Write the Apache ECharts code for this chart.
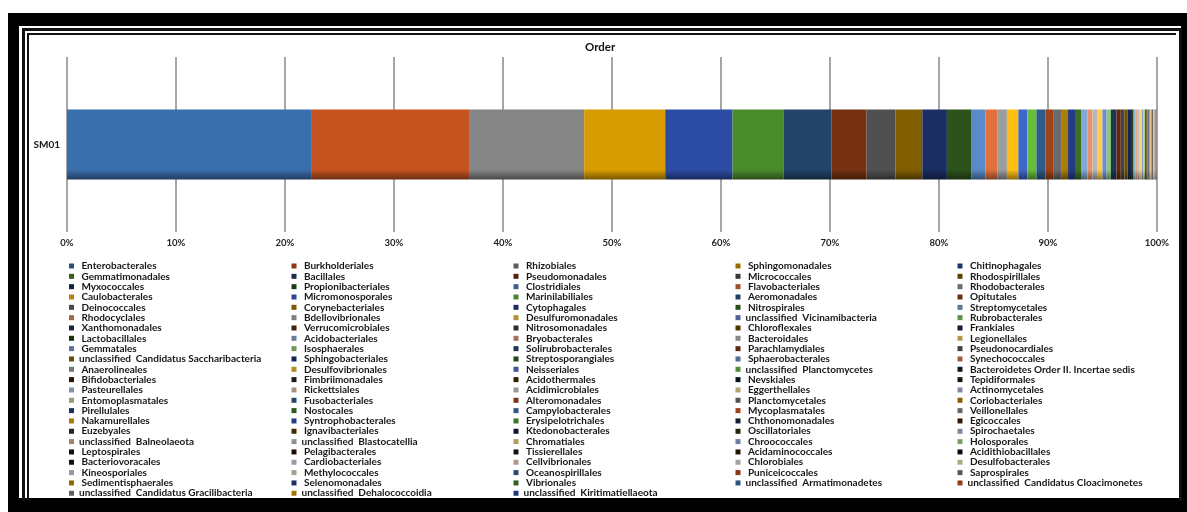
<!DOCTYPE html>
<html>
<head>
<meta charset="utf-8">
<title>Order</title>
<script src="https://cdn.jsdelivr.net/npm/echarts@6/dist/echarts.min.js"></script>
<style>
  html, body { margin: 0; padding: 0; background: #fff; }
  #wrap { position: relative; width: 1187px; height: 512px; overflow: hidden; }
  .band  { position: absolute; left: 8px; top: 13px; width: 1179px; height: 499px; background: #000; }
  .paper { position: absolute; left: 19px; top: 26px; width: 1162px; height: 472px; background: #fff; }
  .rule1 { position: absolute; left: 22px; top: 28px; width: 1154px; height: 470px; border: 3px solid #111; border-bottom: none; }
  .rule2 { position: absolute; left: 27px; top: 33px; width: 1147px; height: 465px; border-left: 2px solid #111; border-top: 2px solid #111; }
  #chart { position: absolute; left: 0; top: 0; width: 1187px; height: 512px; }
</style>
</head>
<body>
<div id="wrap">
  <div class="band"></div>
  <div class="paper"></div>
  <div class="rule1"></div>
  <div class="rule2"></div>
  <div id="chart"></div>
</div>
<script>
// Sample
const categories = ['SM01'];

// Orders, in series / legend order (legend reads row by row, five per row)
const orders = [
  'Enterobacterales', 'Burkholderiales', 'Rhizobiales', 'Sphingomonadales', 'Chitinophagales',
  'Gemmatimonadales', 'Bacillales', 'Pseudomonadales', 'Micrococcales', 'Rhodospirillales',
  'Myxococcales', 'Propionibacteriales', 'Clostridiales', 'Flavobacteriales', 'Rhodobacterales',
  'Caulobacterales', 'Micromonosporales', 'Marinilabiliales', 'Aeromonadales', 'Opitutales',
  'Deinococcales', 'Corynebacteriales', 'Cytophagales', 'Nitrospirales', 'Streptomycetales',
  'Rhodocyclales', 'Bdellovibrionales', 'Desulfuromonadales', 'unclassified  Vicinamibacteria', 'Rubrobacterales',
  'Xanthomonadales', 'Verrucomicrobiales', 'Nitrosomonadales', 'Chloroflexales', 'Frankiales',
  'Lactobacillales', 'Acidobacteriales', 'Bryobacterales', 'Bacteroidales', 'Legionellales',
  'Gemmatales', 'Isosphaerales', 'Solirubrobacterales', 'Parachlamydiales', 'Pseudonocardiales',
  'unclassified  Candidatus Saccharibacteria', 'Sphingobacteriales', 'Streptosporangiales', 'Sphaerobacterales', 'Synechococcales',
  'Anaerolineales', 'Desulfovibrionales', 'Neisseriales', 'unclassified  Planctomycetes', 'Bacteroidetes Order II. Incertae sedis',
  'Bifidobacteriales', 'Fimbriimonadales', 'Acidothermales', 'Nevskiales', 'Tepidiformales',
  'Pasteurellales', 'Rickettsiales', 'Acidimicrobiales', 'Eggerthellales', 'Actinomycetales',
  'Entomoplasmatales', 'Fusobacteriales', 'Alteromonadales', 'Planctomycetales', 'Coriobacteriales',
  'Pirellulales', 'Nostocales', 'Campylobacterales', 'Mycoplasmatales', 'Veillonellales',
  'Nakamurellales', 'Syntrophobacterales', 'Erysipelotrichales', 'Chthonomonadales', 'Egicoccales',
  'Euzebyales', 'Ignavibacteriales', 'Ktedonobacterales', 'Oscillatoriales', 'Spirochaetales',
  'unclassified  Balneolaeota', 'unclassified  Blastocatellia', 'Chromatiales', 'Chroococcales', 'Holosporales',
  'Leptospirales', 'Pelagibacterales', 'Tissierellales', 'Acidaminococcales', 'Acidithiobacillales',
  'Bacteriovoracales', 'Cardiobacteriales', 'Cellvibrionales', 'Chlorobiales', 'Desulfobacterales',
  'Kineosporiales', 'Methylococcales', 'Oceanospirillales', 'Puniceicoccales', 'Saprospirales',
  'Sedimentisphaerales', 'Selenomonadales', 'Vibrionales', 'unclassified  Armatimonadetes', 'unclassified  Candidatus Cloacimonetes',
  'unclassified  Candidatus Gracilibacteria', 'unclassified  Dehalococcoidia', 'unclassified  Kiritimatiellaeota'
];

// Relative abundance (%) of each order in SM01
const abundance = [
  22.48, 14.43, 10.57, 7.44, 6.18,
  4.67, 4.43, 3.21, 2.63, 2.48,
  2.26, 2.27, 1.26, 1.13, 0.85,
  1.05, 0.83, 0.83, 0.83, 0.76,
  0.67, 0.64, 0.64, 0.55, 0.59,
  0.46, 0.42, 0.50, 0.39, 0.37,
  0.52, 0.40, 0.33, 0.30, 0.31,
  0.24, 0.20, 0.19, 0.18, 0.17,
  0.16, 0.15, 0.090, 0.075, 0.065,
  0.060, 0.055, 0.050, 0.046, 0.042,
  0.040, 0.037, 0.034, 0.031, 0.026,
  0.025, 0.024, 0.022, 0.021, 0.020,
  0.019, 0.018, 0.017, 0.016, 0.015,
  0.014, 0.013, 0.012, 0.012, 0.011,
  0.011, 0.010, 0.010, 0.009, 0.009,
  0.008, 0.008, 0.008, 0.007, 0.007,
  0.007, 0.006, 0.006, 0.006, 0.005,
  0.005, 0.005, 0.005, 0.004, 0.004,
  0.004, 0.004, 0.003, 0.003, 0.003,
  0.003, 0.003, 0.002, 0.002, 0.002,
  0.002, 0.002, 0.002, 0.002, 0.001,
  0.001, 0.001, 0.001, 0.001, 0.001,
  0.001, 0.001, 0.001
];

// Percent axis ticks
const tickValues = [0, 10, 20, 30, 40, 50, 60, 70, 80, 90, 100];

// ---- colours: six accents, cycled through luminance variants ----
const accents = ['#3a6fae', '#c5531f', '#858585', '#d79c00', '#2c4ca3', '#4a8c2c'];
const variants = [[1, 0], [0.6, 0], [0.8, 0.2], [0.8, 0], [0.6, 0.4], [0.5, 0], [0.5, 0.5],
  [0.7, 0], [0.7, 0.3], [0.3, 0], [0.3, 0.7], [0.9, 0], [0.9, 0.1], [0.4, 0], [0.4, 0.6],
  [0.2, 0], [0.2, 0.8], [0.95, 0], [0.95, 0.05]];

function hexToRgb(h) {
  const n = parseInt(h.slice(1), 16);
  return [(n >> 16) & 255, (n >> 8) & 255, n & 255];
}
function rgbToHsl(r, g, b) {
  r /= 255; g /= 255; b /= 255;
  const mx = Math.max(r, g, b), mn = Math.min(r, g, b);
  let h = 0, s = 0; const l = (mx + mn) / 2;
  if (mx !== mn) {
    const d = mx - mn;
    s = l > 0.5 ? d / (2 - mx - mn) : d / (mx + mn);
    if (mx === r) h = (g - b) / d + (g < b ? 6 : 0);
    else if (mx === g) h = (b - r) / d + 2;
    else h = (r - g) / d + 4;
    h /= 6;
  }
  return [h, s, l];
}
function hslToRgb(h, s, l) {
  if (s === 0) return [l * 255, l * 255, l * 255];
  const q = l < 0.5 ? l * (1 + s) : l + s - l * s, p = 2 * l - q;
  const f = t => {
    if (t < 0) t += 1; if (t > 1) t -= 1;
    if (t < 1 / 6) return p + (q - p) * 6 * t;
    if (t < 1 / 2) return q;
    if (t < 2 / 3) return p + (q - p) * (2 / 3 - t) * 6;
    return p;
  };
  return [f(h + 1 / 3) * 255, f(h) * 255, f(h - 1 / 3) * 255];
}
function lum(hex, mod, off) {
  const [h, s, l] = rgbToHsl(...hexToRgb(hex));
  const rgb = hslToRgb(h, s, Math.min(1, l * mod + off));
  return 'rgb(' + rgb.map(v => Math.round(v)).join(',') + ')';
}
function shade(rgbStr, k) {
  const v = rgbStr.match(/\d+/g).map(Number);
  return 'rgb(' + v.map(x => Math.round(x * k)).join(',') + ')';
}
const colorOf = i => {
  const [m, o] = variants[Math.floor(i / 6) % variants.length];
  return lum(accents[i % 6], m, o);
};

// ---- series: one stacked bar segment per order, scaled to 100 % ----
const total = abundance.reduce((a, b) => a + b, 0);
const series = orders.map((name, i) => {
  const c = colorOf(i);
  return {
    name,
    type: 'bar',
    stack: 'all',
    barWidth: 70,
    data: [abundance[i] / total * 100],
    itemStyle: {
      color: new echarts.graphic.LinearGradient(0, 0, 0, 1, [
        { offset: 0, color: c },
        { offset: 0.86, color: c },
        { offset: 1, color: shade(c, 0.55) }
      ])
    },
    emphasis: { disabled: true }
  };
});

// ---- legend: five columns, each listing every fifth order ----
const legendFont = { fontFamily: 'Lato', fontWeight: 'bold', fontSize: 10, lineHeight: 10, color: '#161616' };
const colLeft = [69, 291.5, 513.5, 735.5, 957.5];
const legends = colLeft.map((left, col) => ({
  orient: 'vertical',
  left,
  top: 261,
  padding: 0,
  itemGap: 0.33,
  itemWidth: 5,
  itemHeight: 5,
  icon: 'rect',
  selectedMode: false,
  textStyle: legendFont,
  formatter: n => (n.startsWith('unclassified') ? n : ' ' + n),
  data: orders
    .map((name, i) => ({ name, i }))
    .filter(d => d.i % 5 === col)
    .map(d => ({ name: d.name, itemStyle: { color: shade(colorOf(d.i), 0.7) } }))
}));

const chart = echarts.init(document.getElementById('chart'), null, { renderer: 'canvas' });
chart.setOption({
  animation: false,
  backgroundColor: 'transparent',
  title: {
    text: 'Order',
    left: 585,
    top: 41,
    padding: 0,
    textStyle: { fontFamily: 'Lato', fontWeight: 'bold', fontSize: 11.5, color: '#111' }
  },
  grid: { left: 67, right: 30, top: 57, bottom: 280, containLabel: false },
  xAxis: {
    type: 'value',
    min: tickValues[0],
    max: tickValues[tickValues.length - 1],
    interval: tickValues[1] - tickValues[0],
    axisLine: { show: false },
    axisTick: { show: false },
    splitLine: { show: true, lineStyle: { color: '#8a8a8a', width: 1.5 } },
    axisLabel: {
      margin: 6,
      formatter: v => v + '%',
      fontFamily: 'Lato', fontWeight: 'bold', fontSize: 9.5, color: '#222'
    }
  },
  yAxis: {
    type: 'category',
    data: categories,
    axisLine: { show: false },
    axisTick: { show: false },
    splitLine: { show: false },
    axisLabel: { margin: 7, fontFamily: 'Lato', fontWeight: 'bold', fontSize: 10, color: '#161616' }
  },
  legend: legends,
  series
});
</script>
</body>
</html>
